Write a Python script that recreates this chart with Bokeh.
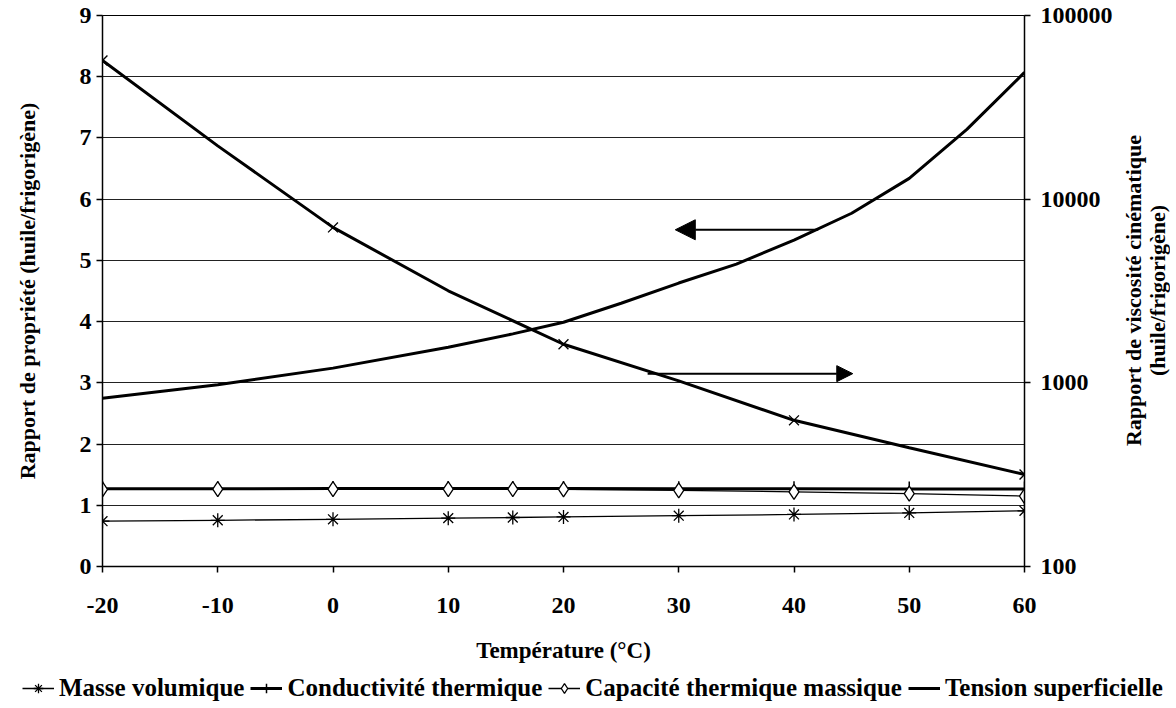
import math
from bokeh.plotting import figure
from bokeh.layouts import column, row
from bokeh.models import (Range1d, LogScale, LogAxis, FixedTicker, PrintfTickFormatter,
                          Legend, LegendItem, Arrow, NormalHead, Label)
from bokeh.embed import file_html
from bokeh.resources import INLINE

# ---- data ----
temps = [-20, -10, 0, 10, 15.6, 20, 30, 40, 50, 60]
masse_volumique = [0.74, 0.755, 0.77, 0.79, 0.80, 0.81, 0.83, 0.85, 0.875, 0.91]
conductivite = [1.27, 1.27, 1.275, 1.275, 1.275, 1.275, 1.27, 1.27, 1.265, 1.265]
capacite = [1.26, 1.265, 1.265, 1.265, 1.265, 1.26, 1.245, 1.22, 1.19, 1.15]

tension_temps = [-20, -10, 0, 10, 15.6, 20, 25, 30, 35, 40, 45, 50, 55, 60]
tension = [2.75, 2.97, 3.24, 3.58, 3.80, 3.99, 4.30, 4.63, 4.94, 5.33, 5.77, 6.34, 7.14, 8.07]

visc_line_temps = [-20, -10, 0, 10, 20, 30, 40, 50, 60]
visc_line = [56900, 19500, 7020, 3170, 1622, 1024, 625, 443, 317]
visc_marker_temps = [-20, 0, 20, 40, 60]
visc_markers = [56900, 7020, 1622, 625, 317]

x_ticks = [-20, -10, 0, 10, 20, 30, 40, 50, 60]
y_ticks = [0, 1, 2, 3, 4, 5, 6, 7, 8, 9]
visc_ticks = [100, 1000, 10000, 100000]

right_title_lines = ["Rapport de viscosité cinématique", "(huile/frigorigène)"]
legend_labels = ["Masse volumique", "Conductivité thermique",
                 "Capacité thermique massique", "Tension superficielle"]

# annotation arrows (data coords: temperature, left-axis ratio)
arrow_left = dict(x_start=42.1, x_end=29.7, y=5.5)
arrow_right = dict(x_start=27.3, x_end=45.1, y=3.15)

FONT = "Liberation Serif"
MAIN_W, MAIN_H = 1115, 674
RIGHT_W = 55
LEG_H = 30

p = figure(width=MAIN_W, height=MAIN_H, output_backend="svg", toolbar_location=None,
           x_range=Range1d(-20, 60), y_range=Range1d(0, 9),
           min_border_left=102, min_border_right=91, min_border_top=15, min_border_bottom=108)
p.background_fill_color = "white"
p.border_fill_color = "white"
p.outline_line_color = "black"
p.outline_line_width = 1

p.extra_y_ranges = {"visc": Range1d(100, 100000)}
p.extra_y_scales = {"visc": LogScale()}

# grid
p.xgrid.visible = False
p.ygrid.ticker = FixedTicker(ticks=y_ticks)
p.ygrid.grid_line_color = "#222222"
p.ygrid.grid_line_width = 1

def style_axis(ax):
    ax.axis_line_color = "black"
    ax.axis_line_width = 1.5
    ax.major_tick_line_color = "black"
    ax.major_tick_line_width = 1.5
    ax.major_tick_out = 6
    ax.major_tick_in = 0
    ax.minor_tick_line_color = None
    ax.major_label_text_font = FONT
    ax.major_label_text_font_style = "bold"
    ax.major_label_text_font_size = "24px"
    ax.major_label_text_color = "black"
    ax.axis_label_text_font = FONT
    ax.axis_label_text_font_style = "bold"
    ax.axis_label_text_font_size = "22px"
    ax.axis_label_text_color = "black"

xa = p.xaxis[0]
style_axis(xa)
xa.ticker = FixedTicker(ticks=x_ticks)
xa.formatter = PrintfTickFormatter(format="%d")
xa.axis_label = "Température (°C)"
xa.axis_label_text_font_size = "23px"
xa.major_label_standoff = 25
xa.axis_label_standoff = 22

ya = p.yaxis[0]
style_axis(ya)
ya.ticker = FixedTicker(ticks=y_ticks)
ya.axis_label = "Rapport de propriété (huile/frigorigène)"
ya.major_label_standoff = 5
ya.axis_label_standoff = 37

ra = LogAxis(y_range_name="visc")
style_axis(ra)
ra.ticker = FixedTicker(ticks=visc_ticks)
ra.formatter = PrintfTickFormatter(format="%d")
ra.major_label_standoff = 10
p.add_layout(ra, "right")

# ---- series ----
p.line(visc_line_temps, visc_line, y_range_name="visc", line_color="black", line_width=3)
p.scatter(visc_marker_temps, visc_markers, y_range_name="visc", marker="x", size=14,
          line_color="black", line_width=1.3)

p.line(tension_temps, tension, line_color="black", line_width=3)

p.line(temps, conductivite, line_color="black", line_width=3)
p.scatter(temps, conductivite, marker="cross", size=15, line_color="black", line_width=1.5)

p.line(temps, capacite, line_color="black", line_width=1.3)
p.scatter(temps, capacite, marker="diamond", size=15, line_color="black",
          fill_color="white", line_width=1.3)

p.line(temps, masse_volumique, line_color="black", line_width=1.3)
p.scatter(temps, masse_volumique, marker="asterisk", size=14, line_color="black", line_width=1.3)

# arrows
p.add_layout(Arrow(end=NormalHead(size=20, fill_color="black", line_color="black"),
                   x_start=arrow_left["x_start"], y_start=arrow_left["y"],
                   x_end=arrow_left["x_end"], y_end=arrow_left["y"],
                   line_color="black", line_width=2))
p.add_layout(Arrow(end=NormalHead(size=16, fill_color="black", line_color="black"),
                   x_start=arrow_right["x_start"], y_start=arrow_right["y"],
                   x_end=arrow_right["x_end"], y_end=arrow_right["y"],
                   line_color="black", line_width=2))

def blank_figure(w, h):
    f = figure(width=w, height=h, output_backend="svg", toolbar_location=None,
               x_range=Range1d(0, 1), y_range=Range1d(0, 1),
               x_axis_location=None, y_axis_location=None,
               min_border_left=0, min_border_right=0, min_border_top=0, min_border_bottom=0)
    f.xgrid.visible = False
    f.ygrid.visible = False
    f.outline_line_color = None
    f.background_fill_color = "white"
    f.border_fill_color = "white"
    return f

# right axis title panel (two lines, reading bottom-to-top); its frame is aligned with p's frame
pr = blank_figure(RIGHT_W, MAIN_H)
for i, line in enumerate(right_title_lines):
    pr.add_layout(Label(x=18 + 24 * i, y=276, x_units="screen", y_units="screen",
                        text=line, angle=math.pi / 2, text_align="center",
                        text_baseline="middle", text_font=FONT, text_font_style="bold",
                        text_font_size="22px", text_color="black"))

# legend panel: hidden copies of the series supply the legend swatches
pl = blank_figure(MAIN_W + RIGHT_W, LEG_H)
l_mas = pl.line(temps, masse_volumique, line_color="black", line_width=1.3, visible=False)
m_mas = pl.scatter(temps, masse_volumique, marker="asterisk", size=14, line_color="black",
                   line_width=1.3, visible=False)
l_cond = pl.line(temps, conductivite, line_color="black", line_width=3, visible=False)
m_cond = pl.scatter(temps, conductivite, marker="cross", size=15, line_color="black",
                    line_width=1.5, visible=False)
l_cap = pl.line(temps, capacite, line_color="black", line_width=1.3, visible=False)
m_cap = pl.scatter(temps, capacite, marker="diamond", size=15, line_color="black",
                   fill_color="white", line_width=1.3, visible=False)
l_ten = pl.line(tension_temps, tension, line_color="black", line_width=3, visible=False)

legend = Legend(items=[
    LegendItem(label=legend_labels[0], renderers=[l_mas, m_mas]),
    LegendItem(label=legend_labels[1], renderers=[l_cond, m_cond]),
    LegendItem(label=legend_labels[2], renderers=[l_cap, m_cap]),
    LegendItem(label=legend_labels[3], renderers=[l_ten]),
], orientation="horizontal", location=(22, 2))
legend.label_text_font = FONT
legend.label_text_font_style = "bold"
legend.label_text_font_size = "25px"
legend.label_text_color = "black"
legend.glyph_width = 32
legend.glyph_height = 24
legend.label_height = 24
legend.label_standoff = 5
legend.spacing = 6
legend.padding = 0
legend.margin = 0
legend.border_line_color = None
legend.background_fill_alpha = 0
legend.inactive_fill_alpha = 0
pl.add_layout(legend, "center")

layout = column(row(p, pr), pl)

open("out.html", "w").write(file_html(layout, INLINE))
